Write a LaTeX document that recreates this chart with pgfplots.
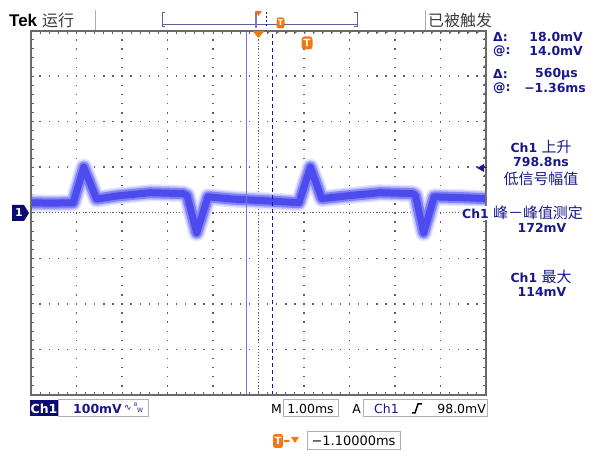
\documentclass[border=0pt]{standalone}
\usepackage{pgfplots}
\pgfplotsset{compat=1.18}
\usepackage{pgfplotstable}
\usetikzlibrary{arrows.meta}
\usepackage{fontspec}
\setmainfont{DejaVu Sans}
\newfontfamily\cjk{Noto Sans CJK SC}
\newfontfamily\tekf{Liberation Sans}

\definecolor{tekblue}{RGB}{25,25,140}
\definecolor{labelblue}{RGB}{10,10,115}
\definecolor{wavecore}{RGB}{75,75,238}
\definecolor{wavemid}{RGB}{130,130,247}
\definecolor{wavehalo}{RGB}{190,190,252}
\definecolor{wavefuzz}{RGB}{228,228,254}
\definecolor{tekorange}{RGB}{240,120,20}
\definecolor{gridgray}{RGB}{95,95,95}
\definecolor{bordergray}{RGB}{105,105,105}
\definecolor{cursorblue}{RGB}{120,120,215}
\definecolor{dashblue}{RGB}{20,20,170}
\definecolor{boxgray}{RGB}{175,175,175}
\definecolor{bargray}{RGB}{95,95,160}
\definecolor{topgray}{RGB}{60,60,60}

\newcommand\rp{\fontsize{12.5}{13}\selectfont\bfseries}
\newcommand\bt{\fontsize{12.5}{13}\selectfont}
\newcommand\ck{\fontsize{15}{16}\selectfont\cjk}

% Ch1 trace, time in ms (1 ms/div), voltage in mV (100 mV/div)
\pgfplotstableread{
t      v
-5.00  22
-4.57  21
-4.07  22
-3.84  100
-3.56  30
-3.10  37
-2.38  44
-1.66  42
-1.57  38
-1.36  -44
-1.11  35
-0.56  30
0.19   26
0.89   22
1.14   100
1.39   31
1.94   37
2.67   44
3.39   42
3.45   38
3.63   -44
3.86   35
4.49   33
5.00   31
}\wavedata

\begin{document}
\begin{tikzpicture}
\useasboundingbox (0,0) rectangle (600bp,462bp);
\fill[white] (0,0) rectangle (600bp,462bp);

\begin{axis}[
    at={(31bp,67bp)}, anchor=south west,
    width=455bp, height=364.5bp, scale only axis,
    xmin=-5, xmax=5, ymin=-400, ymax=400,
    xtick={-5,...,5}, ytick={-400,-300,...,400},
    minor x tick num=4, minor y tick num=4,
    xticklabels={}, yticklabels={},
    tick align=inside,
    major tick length=3bp, minor tick length=3bp,
    every tick/.style={gridgray, line width=0.9bp},
    grid=major,
    major grid style={gridgray, line width=1.4bp, dash pattern=on 1.4bp off 7.7bp, dash phase=0.7bp},
    axis line style={bordergray, line width=2bp},
]
% centre cross with small ticks
\draw[gridgray, line width=1bp, dash pattern=on 1bp off 2.03bp] (axis cs:-5,0) -- (axis cs:5,0);
\draw[gridgray, line width=1bp, dash pattern=on 1bp off 2.03bp] (axis cs:0,-400) -- (axis cs:0,400);
\pgfplotsinvokeforeach{-24,...,24}{
  \draw[gridgray, line width=1bp] (axis cs:#1/5,0) ++(0,-2.5bp) -- ++(0,5bp);
}
\pgfplotsinvokeforeach{-19,...,19}{
  \draw[gridgray, line width=1bp] (axis cs:0,#1*20) ++(-2.5bp,0) -- ++(5bp,0);
}

% trace: noisy band drawn in layers
\addplot[wavefuzz, line width=17bp, line join=round, line cap=round] table {\wavedata};
\addplot[wavehalo, line width=14bp, line join=round, line cap=round] table {\wavedata};
\addplot[wavemid, line width=11bp, line join=round, line cap=round] table {\wavedata};
\addplot[wavecore, line width=7bp, line join=round, line cap=round] table {\wavedata};

% cursors
\draw[cursorblue, line width=1.5bp] (axis cs:-0.26,-400) -- (axis cs:-0.26,400);
\draw[dashblue, line width=1bp, dash pattern=on 4bp off 3bp] (axis cs:0.30,-400) -- (axis cs:0.30,400);
\draw[tekblue, line width=1bp] (axis cs:-0.26,14) ++(-7bp,0) -- ++(14bp,0);
\draw[tekblue, line width=1bp] (axis cs:0.30,32) ++(-7bp,0) -- ++(14bp,0);

\draw[bordergray, line width=2bp] (rel axis cs:0,0) rectangle (rel axis cs:1,1);
\end{axis}

\begin{scope}[x=1bp, y=1bp, shift={(0,462bp)}, yscale=-1]
% markers on the graticule
\fill[tekorange] (252.5,31) -- (264.5,31) -- (258.5,38) -- cycle;
\node[fill=tekorange, rounded corners=3bp, text=white, inner sep=0pt,
      minimum width=11bp, minimum height=13bp,
      font=\fontsize{10}{10}\selectfont\bfseries] at (307,43) {T};
\fill[labelblue] (12,205) -- (24,205) -- (29,213) -- (24,221) -- (12,221) -- cycle;
\node[text=white, font=\fontsize{11}{11}\selectfont\bfseries] at (19,213) {1};
\fill[tekblue] (477,168) -- (484,164) -- (484,172) -- cycle;
\draw[tekblue, line width=1bp] (484,168) -- (487,168);

% top bar
\node[anchor=west, inner sep=0pt, font=\fontsize{17}{17}\selectfont\tekf\bfseries] at (9,20) {Tek};
\node[anchor=west, inner sep=0pt, text=topgray, font=\fontsize{16}{16}\selectfont\cjk] at (42,20) {运行};
\draw[boxgray, line width=1bp] (95,10) -- (95,30);
\draw[boxgray, line width=1bp] (425,10) -- (425,30);
\node[anchor=west, inner sep=0pt, text=topgray, font=\fontsize{16}{16}\selectfont\cjk] at (428,20) {已被触发};
\draw[bargray, line width=1bp] (165,12.5) -- (162,12.5) -- (162,27) -- (165,27);
\draw[bargray, line width=1bp] (354,12.5) -- (357,12.5) -- (357,27) -- (354,27);
\draw[bargray, line width=1bp] (162,24.5) -- (357,24.5);
\draw[cursorblue, line width=1.2bp] (256,12) -- (256,28);
\draw[dashblue, line width=1bp, dash pattern=on 2bp off 2bp] (266.5,12) -- (266.5,28);
\fill[tekorange] (255,11) -- (262,11) -- (258.5,16) -- cycle;
\node[fill=tekorange, rounded corners=2.5bp, text=white, inner sep=0pt,
      minimum width=8bp, minimum height=11bp,
      font=\fontsize{8}{8}\selectfont\bfseries] at (280.5,23) {T};

% right panel readouts
\begin{scope}[every node/.style={text=tekblue, inner sep=0pt}]
\node[anchor=west, font=\rp] at (493,37) {Δ:};
\node[anchor=east, font=\rp] at (583,37) {18.0mV};
\node[anchor=west, font=\rp] at (493,51) {@:};
\node[anchor=east, font=\rp] at (583,51) {14.0mV};
\node[anchor=west, font=\rp] at (493,74) {Δ:};
\node[anchor=east, font=\rp] at (578,74) {560µs};
\node[anchor=west, font=\rp] at (493,88) {@:};
\node[anchor=east, font=\rp] at (586,88) {−1.36ms};
\node[font=\rp] at (541,147) {Ch1 {\ck\mdseries 上升}};
\node[font=\rp] at (541,162) {798.8ns};
\node[font=\ck] at (541,179) {低信号幅值};
\node[anchor=west, fill=white, inner xsep=1bp, font=\rp] at (461,213) {Ch1 {\ck\mdseries 峰－峰值测定}};
\node[font=\rp] at (542,228) {172mV};
\node[font=\rp] at (541,277) {Ch1 {\ck\mdseries 最大}};
\node[font=\rp] at (542,292) {114mV};
\end{scope}

% bottom status line
\fill[labelblue] (30,400) rectangle (58,416);
\node[text=white, font=\rp, inner sep=0pt] at (44,408.5) {Ch1};
\draw[boxgray, line width=1bp] (58,400) rectangle (148,417);
\node[anchor=west, text=tekblue, font=\rp, inner sep=0pt] at (73,408.5) {100mV};
\node[anchor=west, text=tekblue, inner sep=0pt, font=\fontsize{9}{9}\selectfont] at (124,408) {∿};
\node[anchor=west, text=tekblue, inner sep=0pt, font=\fontsize{5}{5}\selectfont] at (134,405) {B};
\node[anchor=west, text=tekblue, inner sep=0pt, font=\fontsize{6}{6}\selectfont] at (137,410) {W};

\node[anchor=east, inner sep=0pt, font=\bt] at (282,408.5) {M};
\draw[boxgray, line width=1bp] (283,400) rectangle (338,417);
\node[inner sep=0pt, font=\bt] at (310.5,408.5) {1.00ms};
\node[anchor=east, inner sep=0pt, font=\bt] at (361,408.5) {A};
\draw[boxgray, line width=1bp] (363,400) rectangle (487,417);
\node[anchor=west, text=tekblue, inner sep=0pt, font=\bt] at (374,408.5) {Ch1};
\draw[black, line width=1.5bp] (412,413) -- (415,413) -- (418,404) -- (422,404);
\node[anchor=east, inner sep=0pt, font=\bt] at (486,408.5) {98.0mV};

\node[fill=tekorange, rounded corners=2.5bp, text=white, inner sep=0pt,
      minimum width=10bp, minimum height=14bp,
      font=\fontsize{10}{10}\selectfont\bfseries] at (278,441) {T};
\draw[tekorange, line width=1.2bp, -{Latex[length=3bp]}] (284,441) -- (291,441);
\fill[tekorange] (291,437) -- (299,437) -- (295,443) -- cycle;
\draw[boxgray, line width=1bp] (307,432) rectangle (400,450);
\node[inner sep=0pt, font=\fontsize{13}{13}\selectfont] at (353.5,441) {−1.10000ms};
\end{scope}
\end{tikzpicture}
\end{document}
